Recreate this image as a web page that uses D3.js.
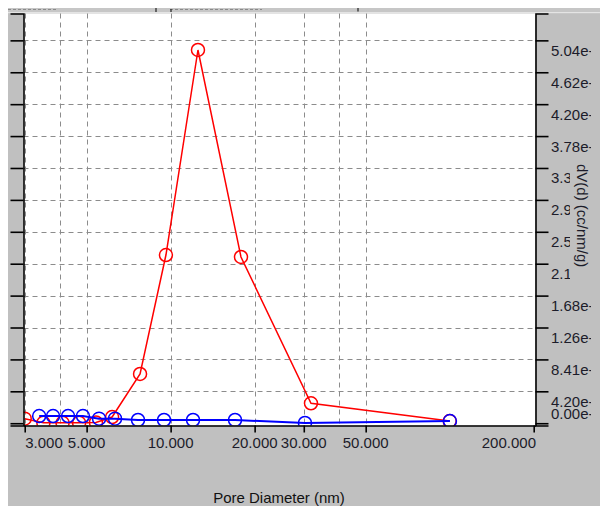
<!DOCTYPE html>
<html>
<head>
<meta charset="utf-8">
<script src="https://cdn.jsdelivr.net/npm/d3@7"></script>
<style>
  html, body { margin: 0; padding: 0; background: #ffffff; }
  svg { display: block; }
  text { font-family: "Liberation Sans", Arial, sans-serif; }
</style>
</head>
<body>
<svg id="chart" width="600" height="506"></svg>
<script>
// Pore size distribution, dV(d) vs pore diameter (log axis)
const redDiameter = [3.0, 3.5, 4.1, 4.7, 5.4, 6.17, 7.77, 9.62, 12.53, 17.87, 31.84, 100];
const redDV       = [0.06e-3, 0.005e-3, 0.005e-3, 0.005e-3, 0.01e-3, 0.082e-3, 0.649e-3, 2.217e-3, 4.919e-3, 2.191e-3, 0.263e-3, 0.029e-3];

const blueDiameter = [3.38, 3.79, 4.29, 4.85, 5.54, 6.32, 7.64, 9.47, 12.03, 17.01, 30.3, 100.2];
const blueDV       = [0.095e-3, 0.095e-3, 0.095e-3, 0.095e-3, 0.06e-3, 0.06e-3, 0.0425e-3, 0.0425e-3, 0.0425e-3, 0.0425e-3, 0.003e-3, 0.029e-3];

const xTickValues = [3, 5, 10, 20, 30, 50, 200];
const xTickLabels = ["3.000", "5.000", "10.000", "20.000", "30.000", "50.000", "200.000"];
const xGridValues = [3, 4, 5, 10, 20, 30, 40, 50];

const yTickValues = [0, 0.4205e-3, 0.841e-3, 1.2615e-3, 1.682e-3, 2.1025e-3, 2.523e-3,
                     2.9435e-3, 3.364e-3, 3.7845e-3, 4.205e-3, 4.6255e-3, 5.046e-3];
const yTickLabels = ["0.00e+000", "4.20e-004", "8.41e-004", "1.26e-003", "1.68e-003", "2.10e-003", "2.52e-003",
                     "2.94e-003", "3.36e-003", "3.78e-003", "4.20e-003", "4.62e-003", "5.04e-003"];

const svg = d3.select("#chart");
const L = 23.5, R = 535.5, T = 13.5, B = 425.5;

const x = d3.scaleLog().domain([2.97, 203]).range([L, R]);
const y = d3.scaleLinear().domain([-0.03e-3, 5.40e-3]).range([B, T]);

// panel background
svg.append("rect").attr("x", 8).attr("y", 8).attr("width", 592).attr("height", 498).attr("fill", "#c0c0c0");
svg.append("rect").attr("x", 8).attr("y", 8).attr("width", 592).attr("height", 4).attr("fill", "#c6c6c6");
svg.append("rect").attr("x", 8).attr("y", 12).attr("width", 592).attr("height", 1.2).attr("fill", "#e4e4e4");
// dashed strip along the top edge
[[8, 57], [170, 262]].forEach(([a, b]) => {
  svg.append("line").attr("x1", a).attr("x2", b).attr("y1", 9.5).attr("y2", 9.5)
    .attr("stroke", "#8a8a8a").attr("stroke-width", 1).attr("stroke-dasharray", "3,2");
});
[[156, 8, 12], [171, 9, 12], [358, 8, 11.5]].forEach(([px, a, b]) => {
  svg.append("line").attr("x1", px).attr("x2", px).attr("y1", a).attr("y2", b)
    .attr("stroke", "#222").attr("stroke-width", 1.2);
});

// plot area
svg.append("rect").attr("x", L).attr("y", T).attr("width", R - L).attr("height", B - T).attr("fill", "#ffffff");

svg.append("defs").append("clipPath").attr("id", "plotClip")
  .append("rect").attr("x", L).attr("y", T).attr("width", R - L).attr("height", B - T);
svg.select("defs").append("clipPath").attr("id", "labelClip")
  .append("rect").attr("x", 540).attr("y", 0).attr("width", 51).attr("height", 506);

// grid
const grid = svg.append("g").attr("stroke", "#8c8c8c").attr("stroke-width", 1).attr("stroke-dasharray", "5,4");
grid.selectAll("line.h").data(yTickValues.slice(1)).join("line")
  .attr("x1", L).attr("x2", R)
  .attr("y1", d => Math.round(y(d)) + 0.5).attr("y2", d => Math.round(y(d)) + 0.5);
grid.selectAll("line.v").data(xGridValues).join("line")
  .attr("y1", T).attr("y2", B)
  .attr("x1", d => Math.round(x(d)) + 0.5).attr("x2", d => Math.round(x(d)) + 0.5);

// series
const plot = svg.append("g").attr("clip-path", "url(#plotClip)");
function drawSeries(xs, vs, color, lw) {
  const pts = xs.map((d, i) => [d, vs[i]]);
  plot.append("path").datum(pts)
    .attr("fill", "none").attr("stroke", color).attr("stroke-width", lw)
    .attr("d", d3.line().x(d => x(d[0])).y(d => y(d[1])));
  plot.selectAll(null).data(pts).join("circle")
    .attr("cx", d => x(d[0])).attr("cy", d => y(d[1])).attr("r", 6.5)
    .attr("fill", "none").attr("stroke", color).attr("stroke-width", 1.5);
}
drawSeries(redDiameter, redDV, "#ff0000", 1.5);
drawSeries(blueDiameter, blueDV, "#0000ff", 2);

// axes
const axisColor = "#000";
const leftAxis = svg.append("g").attr("transform", `translate(${L},0)`)
  .call(d3.axisLeft(y).tickValues(yTickValues).tickSize(13).tickSizeOuter(13).tickFormat(""));
const rightAxis = svg.append("g").attr("transform", `translate(${R},0)`)
  .call(d3.axisRight(y).tickValues(yTickValues).tickSize(13).tickSizeOuter(13).tickFormat(""));
const bottomAxis = svg.append("g").attr("transform", `translate(0,${B})`)
  .call(d3.axisBottom(x).tickValues(xTickValues).tickSize(7).tickSizeOuter(0).tickFormat(""));
[leftAxis, rightAxis, bottomAxis].forEach(g => {
  g.selectAll("path, line").attr("stroke", axisColor).attr("stroke-width", 1.6);
});

// bottom tick labels
const xl = svg.append("g").attr("font-size", 15).attr("fill", "#1c1c2a");
xTickValues.forEach((v, i) => {
  let anchor = "middle", px = x(v);
  if (i === 0) { anchor = "start"; px = x(v) + 0.5; }
  if (i === xTickValues.length - 1) { anchor = "end"; px = R + 0.5; }
  xl.append("text").attr("x", px).attr("y", 448).attr("text-anchor", anchor).text(xTickLabels[i]);
});

// right tick labels (clipped at the panel edge)
const yl = svg.append("g").attr("font-size", 15).attr("fill", "#1c1c2a").attr("clip-path", "url(#labelClip)");
yTickValues.forEach((v, i) => {
  const base = i === 0 ? 418.5 : y(v) + 15.5;
  yl.append("text").attr("x", 551).attr("y", base).text(yTickLabels[i]);
});

// right axis title on its own box
svg.append("rect").attr("x", 570).attr("y", 160).attr("width", 26).attr("height", 124).attr("fill", "#c0c0c0");
svg.append("text").attr("transform", "translate(577,164) rotate(90)")
  .attr("font-size", 15).attr("fill", "#1c1c2a").text("dV(d) (cc/nm/g)");

// bottom title
svg.append("text").attr("x", 279).attr("y", 503).attr("text-anchor", "middle")
  .attr("font-size", 15).attr("fill", "#111").text("Pore Diameter (nm)");
</script>
</body>
</html>
